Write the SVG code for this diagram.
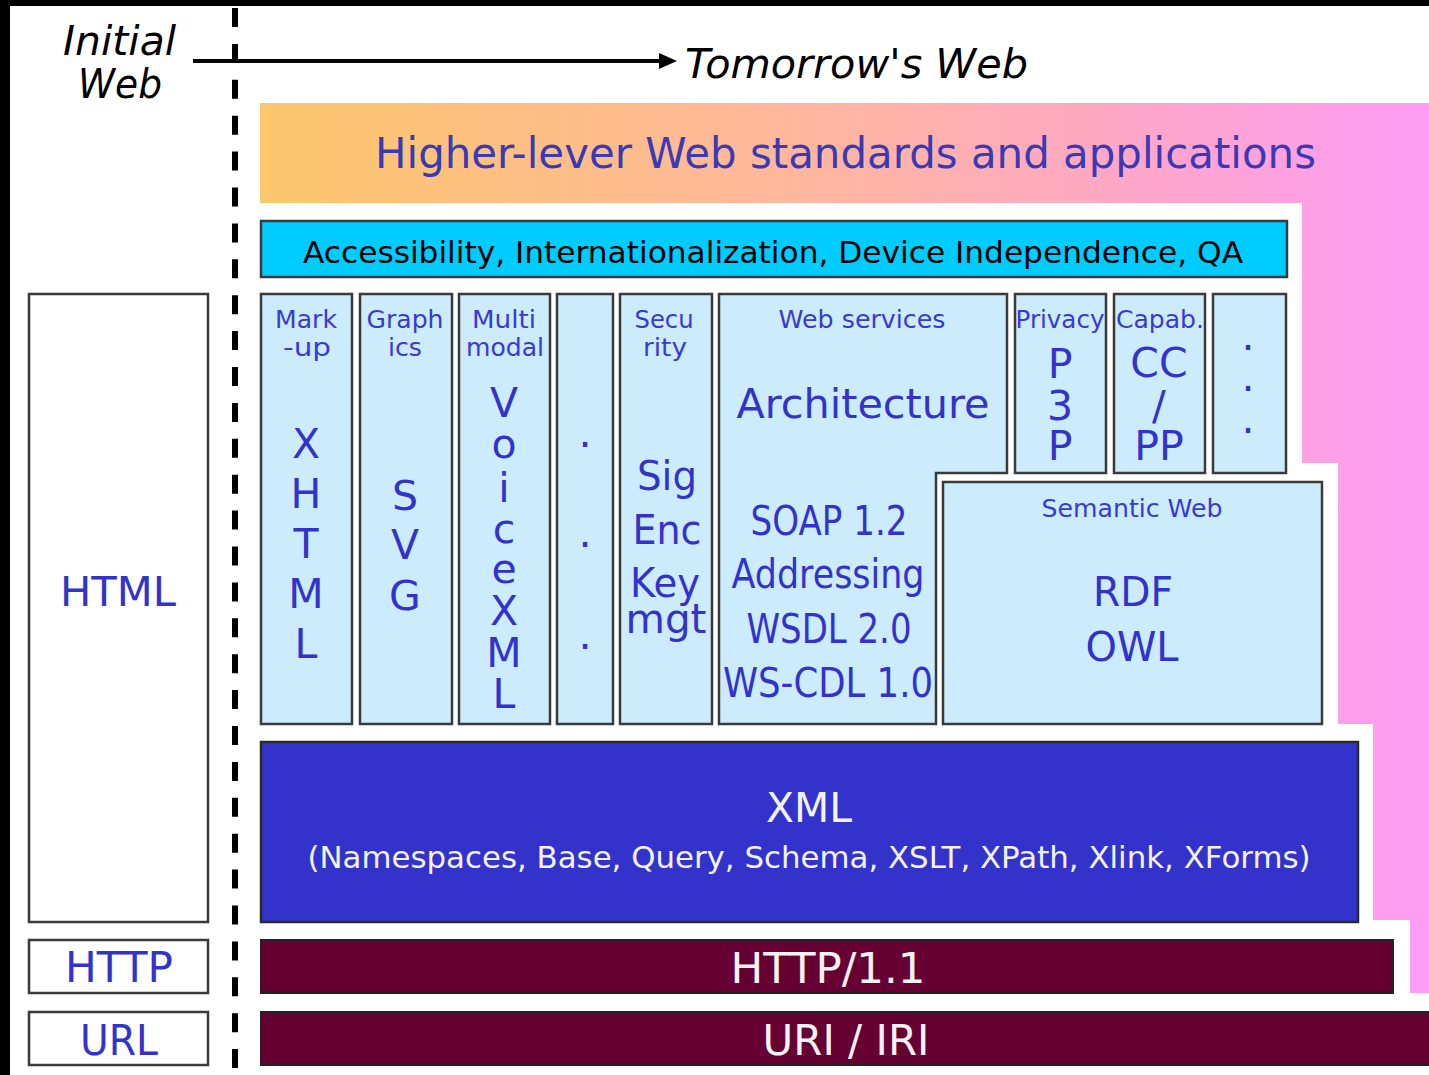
<svg xmlns="http://www.w3.org/2000/svg" width="1429" height="1075" viewBox="0 0 1429 1075">
<style>
text{font-family:"DejaVu Sans","Liberation Sans",sans-serif;}
.box{fill:#CCEBFC;stroke:#3a3a3a;stroke-width:2.5;}
.halo{fill:none;stroke:#c4c4c4;stroke-width:5;}
.wbox{fill:#ffffff;stroke:#3a3a3a;stroke-width:2.5;}
.b{fill:#3333CC;text-anchor:middle;}
.hd{font-size:25px;fill:#3a3ad0;text-anchor:middle;}
.big{font-size:41px;fill:#3333CC;text-anchor:middle;}
.it{font-style:italic;fill:#000;font-size:40px;}
.w{fill:#f2f2f2;text-anchor:middle;}
</style>
<defs>
<linearGradient id="g" gradientUnits="userSpaceOnUse" x1="260" y1="0" x2="1429" y2="0">
<stop offset="0" stop-color="#FCC76C"/>
<stop offset="0.45" stop-color="#FFB79B"/>
<stop offset="0.72" stop-color="#FFA8C4"/>
<stop offset="1" stop-color="#FF9CF6"/>
</linearGradient>
</defs>
<rect x="0" y="0" width="1429" height="1075" fill="#ffffff"/>
<rect x="0" y="0" width="1429" height="6" fill="#000"/>
<rect x="0" y="0" width="10" height="1075" fill="#000"/>

<g id="higher-level">
<polygon points="260,103 1429,103 1429,993 1410,993 1410,920 1373,920 1373,724 1338,724 1338,463 1302,463 1302,203 260,203" fill="url(#g)"/>
<text x="375" y="168" font-size="42" fill="#3a3ab4" textLength="941" lengthAdjust="spacingAndGlyphs">Higher-lever Web standards and applications</text>
</g>

<g id="timeline">
<text class="it" x="63" y="55" textLength="113" lengthAdjust="spacingAndGlyphs">Initial</text>
<text class="it" x="78" y="98" textLength="84" lengthAdjust="spacingAndGlyphs">Web</text>
<text class="it" x="685" y="78" textLength="343" lengthAdjust="spacingAndGlyphs">Tomorrow's Web</text>
</g>

<g id="connectors">
<line x1="235" y1="8" x2="235" y2="1075" stroke="#000" stroke-width="6" stroke-dasharray="19 16.9"/>
<line x1="193" y1="61" x2="664" y2="61" stroke="#000" stroke-width="4"/>
<polygon points="659,53 677,61 659,69" fill="#000"/>
</g>

<g id="accessibility">
<rect x="261" y="221" width="1026" height="56" fill="#00CCFF" stroke="#3a3a3a" stroke-width="2.5"/>
<text x="303" y="263" font-size="30" fill="#000" textLength="940" lengthAdjust="spacingAndGlyphs">Accessibility, Internationalization, Device Independence, QA</text>
</g>

<g id="markup">
<rect class="box" x="261" y="294" width="91" height="430"/>
<text class="hd" x="306" y="328" textLength="62" lengthAdjust="spacingAndGlyphs">Mark</text>
<text class="hd" x="307" y="356" textLength="48" lengthAdjust="spacingAndGlyphs">-up</text>
<text class="big" x="306" y="458">X</text>
<text class="big" x="306" y="508">H</text>
<text class="big" x="306" y="558">T</text>
<text class="big" x="306" y="608">M</text>
<text class="big" x="306" y="658">L</text>
</g>

<g id="graphics">
<rect class="box" x="360" y="294" width="92" height="430"/>
<text class="hd" x="405" y="328" textLength="77" lengthAdjust="spacingAndGlyphs">Graph</text>
<text class="hd" x="405" y="356" textLength="34" lengthAdjust="spacingAndGlyphs">ics</text>
<text class="big" x="405" y="510">S</text>
<text class="big" x="405" y="559">V</text>
<text class="big" x="405" y="610">G</text>
</g>

<g id="multimodal">
<rect class="box" x="459" y="294" width="91" height="430"/>
<text class="hd" x="504" y="328" textLength="64" lengthAdjust="spacingAndGlyphs">Multi</text>
<text class="hd" x="505" y="356" textLength="78" lengthAdjust="spacingAndGlyphs">modal</text>
<text class="big" x="504" y="417">V</text>
<text class="big" x="504" y="458">o</text>
<text class="big" x="504" y="502">i</text>
<text class="big" x="504" y="543">c</text>
<text class="big" x="504" y="583">e</text>
<text class="big" x="504" y="625">X</text>
<text class="big" x="504" y="667">M</text>
<text class="big" x="504" y="708">L</text>
</g>

<g id="dots1">
<rect class="box" x="557" y="294" width="56" height="430"/>
<text class="big" x="585" y="447">.</text>
<text class="big" x="585" y="547">.</text>
<text class="big" x="585" y="649">.</text>
</g>

<g id="security">
<rect class="box" x="620" y="294" width="92" height="430"/>
<text class="hd" x="664" y="328" textLength="59" lengthAdjust="spacingAndGlyphs">Secu</text>
<text class="hd" x="665" y="356" textLength="44" lengthAdjust="spacingAndGlyphs">rity</text>
<text class="big" x="667" y="490" textLength="60" lengthAdjust="spacingAndGlyphs">Sig</text>
<text class="big" x="667" y="544" textLength="69" lengthAdjust="spacingAndGlyphs">Enc</text>
<text class="big" x="665" y="597" textLength="70" lengthAdjust="spacingAndGlyphs">Key</text>
<text class="big" x="666" y="633" textLength="81" lengthAdjust="spacingAndGlyphs">mgt</text>
</g>

<g id="web-services">
<polygon class="box" points="719,294 1007,294 1007,473 936,473 936,724 719,724"/>
<text class="hd" x="862" y="328" textLength="167" lengthAdjust="spacingAndGlyphs">Web services</text>
<text class="big" x="863" y="418" textLength="253" lengthAdjust="spacingAndGlyphs">Architecture</text>
<text class="big" x="829" y="535" textLength="157" lengthAdjust="spacingAndGlyphs">SOAP 1.2</text>
<text class="big" x="828" y="588" textLength="193" lengthAdjust="spacingAndGlyphs">Addressing</text>
<text class="big" x="829" y="643" textLength="165" lengthAdjust="spacingAndGlyphs">WSDL 2.0</text>
<text class="big" x="828" y="697" textLength="210" lengthAdjust="spacingAndGlyphs">WS-CDL 1.0</text>
</g>

<g id="privacy">
<rect class="box" x="1015" y="294" width="91" height="179"/>
<text class="hd" x="1060" y="328" textLength="89" lengthAdjust="spacingAndGlyphs">Privacy</text>
<text class="big" x="1060" y="378">P</text>
<text class="big" x="1060" y="420">3</text>
<text class="big" x="1060" y="460">P</text>
</g>

<g id="capabilities">
<rect class="box" x="1114" y="294" width="91" height="179"/>
<text class="hd" x="1160" y="328" textLength="88" lengthAdjust="spacingAndGlyphs">Capab.</text>
<text class="big" x="1159" y="377">CC</text>
<text class="big" x="1159" y="420">/</text>
<text class="big" x="1159" y="460">PP</text>
</g>

<g id="dots2">
<rect class="box" x="1213" y="294" width="73" height="179"/>
<text class="big" x="1248" y="350">.</text>
<text class="big" x="1248" y="391">.</text>
<text class="big" x="1248" y="433">.</text>
</g>

<g id="semantic-web">
<rect class="box" x="943" y="482" width="379" height="242"/>
<text class="hd" x="1132" y="517" textLength="181" lengthAdjust="spacingAndGlyphs">Semantic Web</text>
<text class="big" x="1133" y="606" textLength="80" lengthAdjust="spacingAndGlyphs">RDF</text>
<text class="big" x="1132" y="661" textLength="93" lengthAdjust="spacingAndGlyphs">OWL</text>
</g>

<g id="xml">
<rect x="261" y="742" width="1097" height="180" fill="#3333CC" stroke="#2a2a2a" stroke-width="2.5"/>
<text class="w" x="809" y="822" font-size="40" textLength="86" lengthAdjust="spacingAndGlyphs">XML</text>
<text class="w" x="809" y="868" font-size="30" textLength="1003" lengthAdjust="spacingAndGlyphs">(Namespaces, Base, Query, Schema, XSLT, XPath, Xlink, XForms)</text>
</g>

<g id="http11">
<rect x="261" y="940" width="1132" height="53" fill="#660033" stroke="#222" stroke-width="2"/>
<text class="w" x="828" y="983" font-size="42" textLength="195" lengthAdjust="spacingAndGlyphs">HTTP/1.1</text>
</g>

<g id="uri-iri">
<rect x="261" y="1012" width="1180" height="53" fill="#660033" stroke="#222" stroke-width="2"/>
<text class="w" x="846" y="1055" font-size="42" textLength="167" lengthAdjust="spacingAndGlyphs">URI / IRI</text>
</g>

<g id="html">
<rect class="wbox" x="29" y="294" width="179" height="628"/>
<text class="b" x="118" y="606" font-size="41" textLength="116" lengthAdjust="spacingAndGlyphs">HTML</text>
</g>

<g id="http">
<rect class="wbox" x="29" y="940" width="179" height="53"/>
<text class="b" x="119" y="982" font-size="43" textLength="108" lengthAdjust="spacingAndGlyphs">HTTP</text>
</g>

<g id="url">
<rect class="wbox" x="29" y="1012" width="179" height="53"/>
<text class="b" x="119" y="1055" font-size="43" textLength="78" lengthAdjust="spacingAndGlyphs">URL</text>
</g>
</svg>
